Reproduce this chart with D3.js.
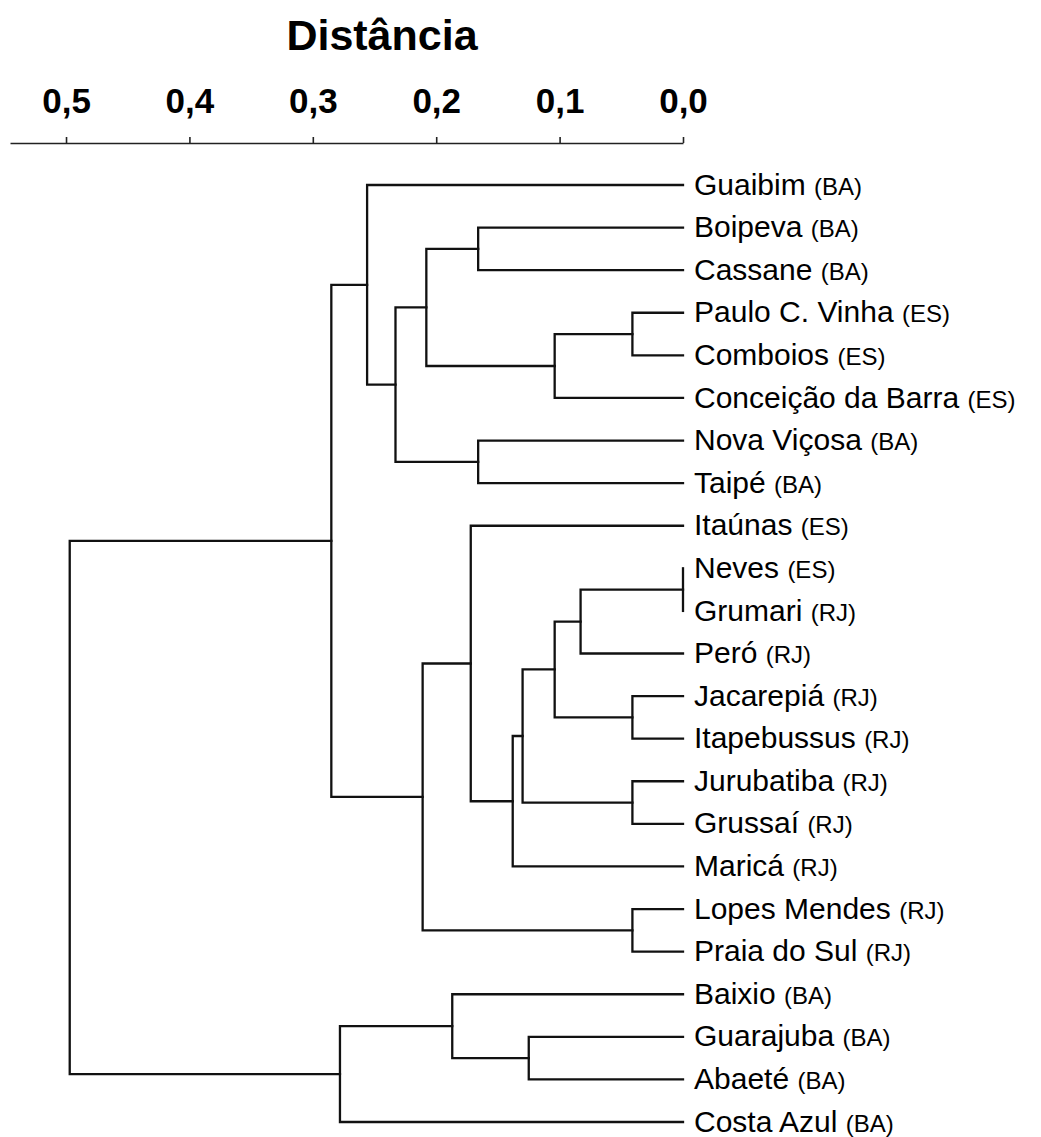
<!DOCTYPE html>
<html>
<head>
<meta charset="utf-8">
<script src="https://cdn.jsdelivr.net/npm/d3@7"></script>
<style>
  body { margin: 0; background: #fff; }
  svg { font-family: "Liberation Sans", Arial, sans-serif; }
</style>
</head>
<body>
<div id="chart-area"></div>
<script>
// leaves, top to bottom
var leaves = ["Guaibim", "Boipeva", "Cassane", "Paulo C. Vinha", "Comboios", "Conceição da Barra",
  "Nova Viçosa", "Taipé", "Itaúnas", "Neves", "Grumari", "Peró", "Jacarepiá", "Itapebussus",
  "Jurubatiba", "Grussaí", "Maricá", "Lopes Mendes", "Praia do Sul", "Baixio", "Guarajuba",
  "Abaeté", "Costa Azul"];
var states = ["BA", "BA", "BA", "ES", "ES", "ES", "BA", "BA", "ES", "ES", "RJ", "RJ", "RJ", "RJ",
  "RJ", "RJ", "RJ", "RJ", "RJ", "BA", "BA", "BA", "BA"];

// merges: strings are leaves, numbers point to an earlier merge
var merges = [
  ["Paulo C. Vinha", "Comboios"],   // 0
  ["Boipeva", "Cassane"],           // 1
  [0, "Conceição da Barra"],        // 2
  [1, 2],                           // 3
  ["Nova Viçosa", "Taipé"],         // 4
  [3, 4],                           // 5
  ["Guaibim", 5],                   // 6
  ["Neves", "Grumari"],             // 7
  [7, "Peró"],                      // 8
  ["Jacarepiá", "Itapebussus"],     // 9
  [8, 9],                           // 10
  ["Jurubatiba", "Grussaí"],        // 11
  [10, 11],                         // 12
  [12, "Maricá"],                   // 13
  ["Itaúnas", 13],                  // 14
  ["Lopes Mendes", "Praia do Sul"], // 15
  [14, 15],                         // 16
  [6, 16],                          // 17
  ["Guarajuba", "Abaeté"],          // 18
  ["Baixio", 18],                   // 19
  [19, "Costa Azul"],               // 20
  [17, 20]                          // 21
];
var heights = [0.041, 0.166, 0.104, 0.208, 0.166, 0.233, 0.256, 0.0, 0.083, 0.041, 0.104,
  0.041, 0.130, 0.138, 0.172, 0.041, 0.211, 0.285, 0.125, 0.187, 0.278, 0.497];

var tickValues = [0.5, 0.4, 0.3, 0.2, 0.1, 0.0];

var width = 1041, height = 1137;

var svg = d3.select("#chart-area").append("svg")
  .attr("width", width)
  .attr("height", height);

var x = d3.scaleLinear().domain([0.5454, 0]).range([10, 683]);
var y = d3.scalePoint().domain(leaves).range([185, 1122]);

var ptBR = d3.formatLocale({decimal: ",", thousands: ".", grouping: [3], currency: ["R$", ""]});

// axis on top
var topAxis = d3.axisTop(x)
  .tickValues(tickValues)
  .tickSize(6)
  .tickSizeOuter(0)
  .tickPadding(24)
  .tickFormat(ptBR.format(".1f"));

var axisG = svg.append("g")
  .attr("class", "top axis")
  .attr("transform", "translate(0,143)")
  .call(topAxis);
axisG.select(".domain").attr("stroke", "#222").attr("stroke-width", 1.6);
axisG.selectAll(".tick line").attr("stroke", "#222").attr("stroke-width", 1.6);
axisG.selectAll(".tick text")
  .attr("fill", "#000")
  .attr("font-size", "35px")
  .attr("font-weight", "bold")
  .attr("font-family", "'Liberation Sans', Arial, sans-serif");

svg.append("text")
  .attr("x", 382)
  .attr("y", 50)
  .attr("text-anchor", "middle")
  .attr("font-size", "43px")
  .attr("font-weight", "bold")
  .text("Distância");

// dendrogram
var nodes = [];
function pos(ref) {
  if (typeof ref === "string") return {x: x(0), y: y(ref)};
  return nodes[ref];
}
var links = svg.append("g")
  .attr("fill", "none")
  .attr("stroke", "#111")
  .attr("stroke-width", 2.3)
  .attr("stroke-linejoin", "miter")
  .attr("stroke-linecap", "square");

merges.forEach(function(m, i) {
  var a = pos(m[0]), b = pos(m[1]);
  var hx = x(heights[i]);
  links.append("path")
    .attr("d", "M" + a.x + "," + a.y + "H" + hx + "V" + b.y + "H" + b.x);
  nodes.push({x: hx, y: (a.y + b.y) / 2});
});

// leaf labels
var labels = svg.append("g").selectAll("text").data(leaves).enter()
  .append("text")
  .attr("x", 694)
  .attr("y", function(d) { return y(d); })
  .attr("dy", "0.32em")
  .attr("font-size", "30px")
  .attr("fill", "#000");
labels.append("tspan").text(function(d) { return d + " "; });
labels.append("tspan")
  .attr("font-size", "24px")
  .text(function(d, i) { return "(" + states[i] + ")"; });
</script>
</body>
</html>
